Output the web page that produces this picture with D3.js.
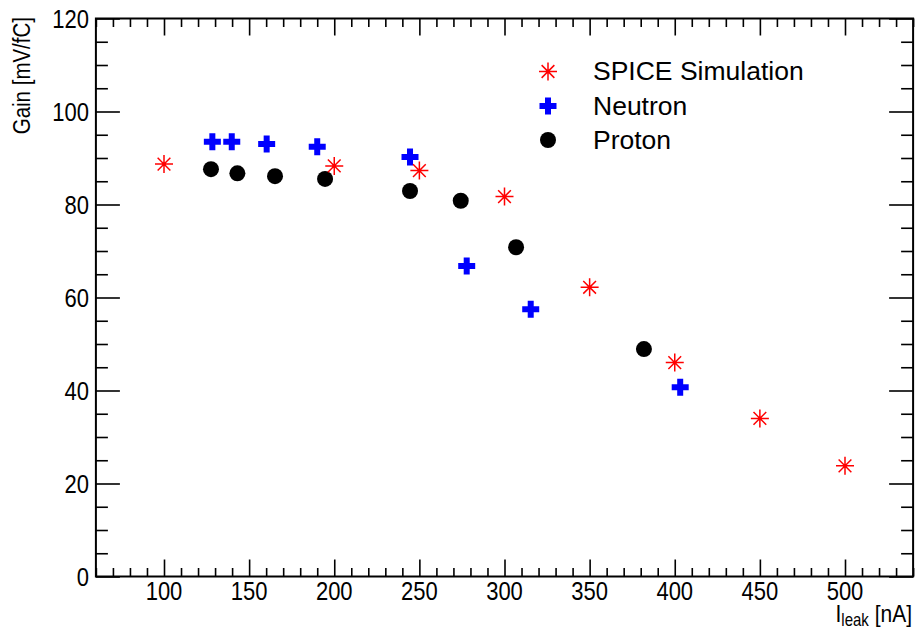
<!DOCTYPE html>
<html>
<head>
<meta charset="utf-8">
<script src="https://cdn.jsdelivr.net/npm/d3@7/dist/d3.min.js"></script>
<style>
  html, body { margin: 0; padding: 0; background: #fff; }
  svg text { font-family: "Liberation Sans", Arial, sans-serif; fill: #000; }
</style>
</head>
<body>
<div id="chart"></div>
<script>
let width = 917;
let height = 629;

// data
const spiceI    = [100, 200, 250, 300, 350, 400, 450, 500];
const spiceGain = [88.7, 88.3, 87.3, 81.7, 62.2, 46.0, 34.0, 23.8];

const neutronI    = [128.4, 139.8, 160.3, 190.0, 244.5, 277.8, 315.4, 403.2];
const neutronGain = [93.5, 93.5, 93.0, 92.4, 90.2, 66.8, 57.5, 40.7];

const protonI    = [127.6, 143.1, 165.2, 194.6, 244.5, 274.3, 306.8, 381.9];
const protonGain = [87.6, 86.7, 86.1, 85.5, 82.9, 80.8, 70.8, 48.9];

const xMajor = [100, 150, 200, 250, 300, 350, 400, 450, 500];
const yMajor = [0, 20, 40, 60, 80, 100, 120];
const legendLabels = ["SPICE Simulation", "Neutron", "Proton"];

const fLeft = 95.9, fRight = 913.1, fTop = 18.5, fBottom = 576.5;

let x = d3.scaleLinear().domain([60, 540]).range([fLeft, fRight]);
let y = d3.scaleLinear().domain([0, 120]).range([fBottom, fTop]);

const xMinor = d3.range(60, 541, 10).filter(v => v % 50 !== 0);
const yMinor = d3.range(0, 121, 5).filter(v => v % 20 !== 0);

var svg = d3.select("#chart").append("svg")
  .attr("width", width)
  .attr("height", height);

// ticks (ROOT style, inward, on all four sides)
function ticks(axisFn, scale, vals, size, tr) {
  let g = svg.append("g")
    .attr("transform", tr)
    .call(axisFn(scale).tickValues(vals).tickSizeInner(size).tickSizeOuter(0).tickFormat(""));
  g.select(".domain").remove();
  g.selectAll("line").attr("stroke", "#000").attr("stroke-width", 1.6);
}
ticks(d3.axisBottom, x, xMajor, -17, `translate(0,${fBottom})`);
ticks(d3.axisBottom, x, xMinor, -8.5, `translate(0,${fBottom})`);
ticks(d3.axisTop, x, xMajor, -17, `translate(0,${fTop})`);
ticks(d3.axisTop, x, xMinor, -8.5, `translate(0,${fTop})`);
ticks(d3.axisLeft, y, yMajor, -24, `translate(${fLeft},0)`);
ticks(d3.axisLeft, y, yMinor, -12, `translate(${fLeft},0)`);
ticks(d3.axisRight, y, yMajor, -24, `translate(${fRight},0)`);
ticks(d3.axisRight, y, yMinor, -12, `translate(${fRight},0)`);

svg.append("rect")
  .attr("x", fLeft).attr("y", fTop)
  .attr("width", fRight - fLeft).attr("height", fBottom - fTop)
  .attr("fill", "none").attr("stroke", "#000").attr("stroke-width", 2);

// tick labels (text in the picture is a bit stretched vertically)
const sy = 1.17;
svg.append("g").selectAll("text")
  .data(xMajor)
  .join("text")
  .attr("transform", d => `translate(${x(d)},${600}) scale(1,${sy})`)
  .attr("text-anchor", "middle")
  .style("font-size", "22px")
  .text(d => d);

svg.append("g").selectAll("text")
  .data(yMajor)
  .join("text")
  .attr("transform", d => `translate(${89},${y(d) + 9}) scale(1,${sy})`)
  .attr("text-anchor", "end")
  .style("font-size", "22px")
  .text(d => d);

// axis titles
let xt = svg.append("text")
  .attr("transform", `translate(${912},${622}) scale(1,${sy})`)
  .attr("text-anchor", "end")
  .style("font-size", "21px");
xt.append("tspan").text("I");
xt.append("tspan").attr("dy", 3.5).style("font-size", "15px").text("leak");
xt.append("tspan").attr("dy", -3.5).text(" [nA]");

svg.append("text")
  .attr("transform", `translate(${30},${17}) rotate(-90) scale(1,${sy})`)
  .attr("text-anchor", "end")
  .style("font-size", "20.5px")
  .text("Gain [mV/fC]");

// markers
const starPath = (r) => {
  let d = r * Math.SQRT1_2;
  return `M${-r},0L${r},0M0,${-r}L0,${r}M${-d},${-d}L${d},${d}M${-d},${d}L${d},${-d}`;
};
const plusPath = (r, w) =>
  `M${-w},${-r}H${w}V${-w}H${r}V${w}H${w}V${r}H${-w}V${w}H${-r}V${-w}H${-w}Z`;

function drawStar(g) {
  g.append("path").attr("d", starPath(9))
    .attr("stroke", "#ff0000").attr("stroke-width", 1.5).attr("fill", "none");
  g.append("circle").attr("r", 1.6).attr("fill", "#ff0000");
}
function drawPlus(g) {
  g.append("path").attr("d", plusPath(8.5, 3)).attr("fill", "#0000ff");
}
function drawDot(g) {
  g.append("circle").attr("r", 8).attr("fill", "#000");
}

const spice = spiceI.map((v, i) => ({ i: v, g: spiceGain[i] }));
const neutron = neutronI.map((v, i) => ({ i: v, g: neutronGain[i] }));
const proton = protonI.map((v, i) => ({ i: v, g: protonGain[i] }));

svg.append("g").selectAll("g").data(proton).join("g")
  .attr("transform", d => `translate(${x(d.i)},${y(d.g)})`)
  .each(function() { drawDot(d3.select(this)); });

svg.append("g").selectAll("g").data(neutron).join("g")
  .attr("transform", d => `translate(${x(d.i)},${y(d.g)})`)
  .each(function() { drawPlus(d3.select(this)); });

svg.append("g").selectAll("g").data(spice).join("g")
  .attr("transform", d => `translate(${x(d.i)},${y(d.g)})`)
  .each(function() { drawStar(d3.select(this)); });

// legend
const legendDraw = [drawStar, drawPlus, drawDot];
const legendY = [71.5, 106, 140];
legendLabels.forEach((lab, i) => {
  let g = svg.append("g").attr("transform", `translate(548,${legendY[i]})`);
  legendDraw[i](g);
  svg.append("text")
    .attr("x", 593).attr("y", legendY[i] + 8.5)
    .style("font-size", "26.5px")
    .text(lab);
});
</script>
</body>
</html>
